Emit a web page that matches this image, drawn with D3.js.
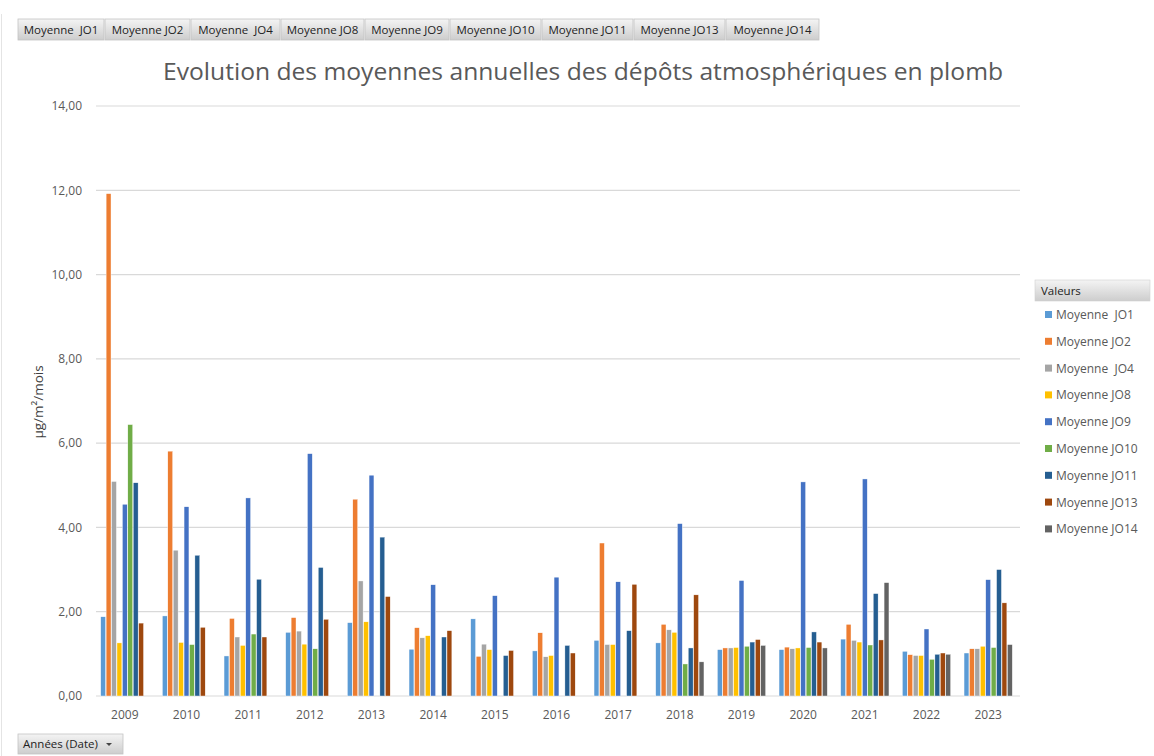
<!DOCTYPE html>
<html>
<head>
    <meta charset="utf-8">
    <title>Evolution des moyennes annuelles</title>
    <script src="https://d3js.org/d3.v7.min.js"></script>
    <style>
        body { margin: 0; background: #fff; }
        svg { display: block; font-family: "Open Sans", "Liberation Sans", sans-serif; }
    </style>
</head>
<body>
    <svg width="1154" height="756"></svg>
    <script>
        // data (null = no bar)
        const years = ["2009", "2010", "2011", "2012", "2013", "2014", "2015", "2016", "2017", "2018", "2019", "2020", "2021", "2022", "2023"];
        const seriesNames = ["Moyenne  JO1", "Moyenne JO2", "Moyenne  JO4", "Moyenne JO8", "Moyenne JO9", "Moyenne JO10", "Moyenne JO11", "Moyenne JO13", "Moyenne JO14"];
        const seriesColors = ["#5B9BD5", "#ED7D31", "#A5A5A5", "#FFC000", "#4472C4", "#70AD47", "#255E91", "#9E480E", "#636363"];

        const jo1  = [1.88, 1.90, 0.95, 1.51, 1.74, 1.11, 1.83, 1.07, 1.32, 1.26, 1.10, 1.10, 1.35, 1.06, 1.02];
        const jo2  = [11.92, 5.81, 1.84, 1.86, 4.67, 1.62, 0.94, 1.50, 3.63, 1.70, 1.14, 1.16, 1.70, 0.98, 1.12];
        const jo4  = [5.09, 3.46, 1.40, 1.54, 2.73, 1.38, 1.23, 0.93, 1.22, 1.57, 1.14, 1.12, 1.32, 0.96, 1.12];
        const jo8  = [1.26, 1.27, 1.20, 1.23, 1.76, 1.43, 1.10, 0.96, 1.22, 1.51, 1.15, 1.14, 1.28, 0.96, 1.18];
        const jo9  = [4.55, 4.49, 4.70, 5.75, 5.24, 2.64, 2.38, 2.82, 2.71, 4.09, 2.74, 5.08, 5.15, 1.59, 2.76];
        const jo10 = [6.44, 1.22, 1.47, 1.12, null, null, null, null, null, 0.76, 1.18, 1.15, 1.21, 0.87, 1.15];
        const jo11 = [5.06, 3.34, 2.77, 3.05, 3.77, 1.40, 0.96, 1.20, 1.55, 1.14, 1.28, 1.52, 2.43, 0.99, 3.00];
        const jo13 = [1.73, 1.63, 1.40, 1.82, 2.36, 1.55, 1.08, 1.02, 2.65, 2.40, 1.34, 1.28, 1.33, 1.02, 2.21];
        const jo14 = [null, null, null, null, null, null, null, null, null, 0.81, 1.20, 1.14, 2.69, 0.99, 1.22];
        const yTicks = [0, 2, 4, 6, 8, 10, 12, 14];

        const allSeries = [jo1, jo2, jo4, jo8, jo9, jo10, jo11, jo13, jo14];

        const svg = d3.select("svg");
        const defs = svg.append("defs");
        const grad = defs.append("linearGradient").attr("id", "btn").attr("x1", 0).attr("x2", 0).attr("y1", 0).attr("y2", 1);
        grad.append("stop").attr("offset", "0%").attr("stop-color", "#f4f4f4");
        grad.append("stop").attr("offset", "100%").attr("stop-color", "#cdcdcd");

        // faint frame on the left
        svg.append("line").attr("x1", 1.5).attr("x2", 1.5).attr("y1", 14).attr("y2", 756)
            .attr("stroke", "#e4e4e4");

        // field buttons at top
        const btnEdges = [18, 105, 191, 281, 365, 450, 542, 634, 726, 820];
        const btns = svg.append("g").selectAll("g")
            .data(seriesNames)
            .enter().append("g")
            .attr("transform", (d, i) => `translate(${btnEdges[i]},19)`);
        btns.append("rect")
            .attr("width", (d, i) => btnEdges[i + 1] - btnEdges[i] - 1)
            .attr("height", 21)
            .attr("fill", "url(#btn)")
            .attr("stroke", "#c4c4c4").attr("stroke-width", 0.8);
        btns.append("text")
            .attr("x", (d, i) => (btnEdges[i + 1] - btnEdges[i] - 1) / 2)
            .attr("y", 15)
            .attr("text-anchor", "middle")
            .attr("font-size", 11.5)
            .attr("fill", "#222")
            .style("white-space", "pre")
            .text(d => d);

        // title
        svg.append("text")
            .attr("x", 583).attr("y", 80)
            .attr("text-anchor", "middle")
            .attr("font-size", 24)
            .attr("fill", "#595959")
            .attr("textLength", 840).attr("lengthAdjust", "spacingAndGlyphs")
            .text("Evolution des moyennes annuelles des dépôts atmosphériques en plomb");

        // scales
        const x0 = d3.scaleBand().domain(years).range([94, 1019]).paddingInner(0.2).paddingOuter(0.1);
        const x1 = d3.scaleBand().domain(d3.range(seriesNames.length)).range([0, x0.bandwidth()]).padding(0.1);
        const y = d3.scaleLinear().domain([0, 14]).range([696, 106]);

        // gridlines
        svg.append("g").selectAll("line")
            .data(yTicks)
            .enter().append("line")
            .attr("x1", 96).attr("x2", 1020)
            .attr("y1", d => y(d)).attr("y2", d => y(d))
            .attr("stroke", "#d9d9d9").attr("stroke-width", 1.2);

        // y axis
        const yAxis = svg.append("g")
            .attr("transform", "translate(82,0)")
            .call(d3.axisLeft(y).tickValues(yTicks).tickSize(0).tickPadding(0)
                .tickFormat(d => d3.format(".2f")(d).replace(".", ",")));
        yAxis.select(".domain").remove();
        yAxis.selectAll("text").attr("font-size", 12).attr("fill", "#595959")
            .attr("font-family", "Open Sans, sans-serif");

        // x axis
        const xAxis = svg.append("g")
            .attr("transform", "translate(0,696)")
            .call(d3.axisBottom(x0).tickSize(0).tickPadding(14));
        xAxis.select(".domain").remove();
        xAxis.selectAll("text").attr("font-size", 12).attr("fill", "#595959")
            .attr("font-family", "Open Sans, sans-serif");

        // y axis title
        svg.append("text")
            .attr("transform", "translate(43,402) rotate(-90)")
            .attr("text-anchor", "middle")
            .attr("font-size", 13.5)
            .attr("fill", "#404040")
            .text("µg/m²/mois");

        // bars
        const groups = svg.append("g").selectAll("g")
            .data(years)
            .enter().append("g")
            .attr("transform", d => `translate(${x0(d)},0)`);
        groups.selectAll("rect")
            .data((yr, yi) => allSeries.map((s, si) => ({ si: si, v: s[yi] })).filter(d => d.v !== null))
            .enter().append("rect")
            .attr("x", d => x1(d.si))
            .attr("width", x1.bandwidth())
            .attr("y", d => y(d.v))
            .attr("height", d => y(0) - y(d.v))
            .attr("fill", d => seriesColors[d.si])
            .attr("stroke", "#ffffff").attr("stroke-width", 0.4);

        // legend
        const legend = svg.append("g").attr("transform", "translate(1035,280)");
        legend.append("rect").attr("width", 115).attr("height", 21)
            .attr("fill", "url(#btn)").attr("stroke", "#d0d0d0").attr("stroke-width", 0.6);
        legend.append("text").attr("x", 6).attr("y", 15)
            .attr("font-size", 11.5).attr("fill", "#222").text("Valeurs");
        const items = legend.selectAll("g.item")
            .data(seriesNames)
            .enter().append("g").attr("class", "item")
            .attr("transform", (d, i) => `translate(0,${35 + i * 26.8})`);
        items.append("rect").attr("x", 10).attr("y", -4).attr("width", 7).attr("height", 7)
            .attr("fill", (d, i) => seriesColors[i]);
        items.append("text").attr("x", 21).attr("y", 4)
            .attr("font-size", 12).attr("fill", "#595959")
            .style("white-space", "pre")
            .text(d => d);

        // bottom field button
        const bottom = svg.append("g").attr("transform", "translate(18,734)");
        bottom.append("rect").attr("width", 105).attr("height", 20)
            .attr("fill", "url(#btn)").attr("stroke", "#c4c4c4").attr("stroke-width", 0.8);
        bottom.append("text").attr("x", 5).attr("y", 14)
            .attr("font-size", 11.5).attr("fill", "#222").text("Années (Date)");
        bottom.append("path").attr("d", "M88,9 L94,9 L91,12 Z").attr("fill", "#444");
    </script>
</body>
</html>
